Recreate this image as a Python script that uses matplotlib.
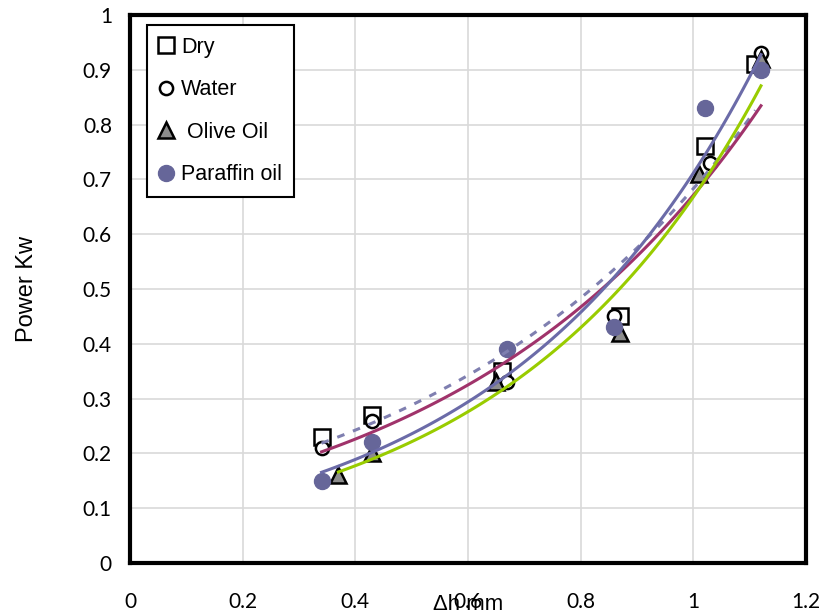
import numpy as np
import matplotlib
matplotlib.use("Agg")
import matplotlib.pyplot as plt

# values
dry_x = [0.34, 0.43, 0.66, 0.87, 1.02, 1.11]
dry_y = [0.23, 0.27, 0.35, 0.45, 0.76, 0.91]
water_x = [0.34, 0.43, 0.67, 0.86, 1.03, 1.12]
water_y = [0.21, 0.26, 0.33, 0.45, 0.73, 0.93]
olive_x = [0.37, 0.43, 0.65, 0.87, 1.01, 1.12]
olive_y = [0.16, 0.20, 0.33, 0.42, 0.71, 0.92]
paraffin_x = [0.34, 0.43, 0.67, 0.86, 1.02, 1.12]
paraffin_y = [0.15, 0.22, 0.39, 0.43, 0.83, 0.90]

x_ticks = [0, 0.2, 0.4, 0.6, 0.8, 1, 1.2]
y_ticks = [0, 0.1, 0.2, 0.3, 0.4, 0.5, 0.6, 0.7, 0.8, 0.9, 1]

label_font = ["Liberation Sans", "DejaVu Sans"]
tick_font = ["Lato", "DejaVu Sans"]


def expfit(x, y):
    # excel style exponential trendline: ln(y) = ln(a) + b*x
    b, lna = np.polyfit(x, np.log(y), 1)
    xs = np.linspace(min(x), max(x), 100)
    return xs, np.exp(lna) * np.exp(b * xs)


fig = plt.figure(figsize=(8.25, 6.14), dpi=100)
ax = fig.add_axes([0.1576, 0.083, 0.8194, 0.8927])

ax.plot(dry_x, dry_y, "s", ms=11, mfc="white", mec="black", mew=1.8, label="Dry", zorder=3)
ax.plot(water_x, water_y, "o", ms=9.5, mfc="white", mec="black", mew=1.8, label="Water", zorder=3)
ax.plot(olive_x, olive_y, "^", ms=11, mfc="#8c8c8c", mec="black", mew=1.8, label=" Olive Oil", zorder=3)
ax.plot(paraffin_x, paraffin_y, "o", ms=11.5, mfc="#666699", mec="#666699", label="Paraffin oil", zorder=3)

xs, ys = expfit(dry_x, dry_y)
ax.plot(xs, ys, color="#7f7fb0", lw=2.2, ls=(0, (2.5, 3)), zorder=4)
xs, ys = expfit(water_x, water_y)
ax.plot(xs, ys, color="#a0336b", lw=2.2, zorder=4)
xs, ys = expfit(olive_x, olive_y)
ax.plot(xs, ys, color="#99cc00", lw=2.2, zorder=4)
xs, ys = expfit(paraffin_x, paraffin_y)
ax.plot(xs, ys, color="#6b6ba8", lw=2.2, zorder=4)

ax.set_xlim(0, 1.2)
ax.set_ylim(0, 1)
ax.set_xticks(x_ticks)
ax.set_yticks(y_ticks)
ax.set_xticklabels([str(t) for t in x_ticks])
ax.set_yticklabels([str(t) for t in y_ticks])
ax.tick_params(length=0, labelsize=15)
ax.tick_params(axis="x", pad=21)
ax.tick_params(axis="y", pad=13)
for lab in ax.get_xticklabels() + ax.get_yticklabels():
    lab.set_family(tick_font)
ax.grid(True, color="#d9d9d9", lw=1.2)
ax.set_axisbelow(True)
for s in ax.spines.values():
    s.set_linewidth(3)
    s.set_color("black")

ax.set_ylabel("Power Kw", fontsize=17, family=label_font, labelpad=32)
ax.set_xlabel("\u0394h mm", fontsize=16, family=label_font, labelpad=-13)

leg = ax.legend(loc="upper left", bbox_to_anchor=(0.025, 0.982), borderaxespad=0,
                fancybox=False, frameon=True, edgecolor="black", framealpha=1,
                prop={"family": label_font, "size": 15.5}, handlelength=0.7,
                handletextpad=0.35, labelspacing=1.0, borderpad=0.55, markerscale=1.0)
leg.get_frame().set_linewidth(1.5)

fig.savefig("out.png", dpi=100)
